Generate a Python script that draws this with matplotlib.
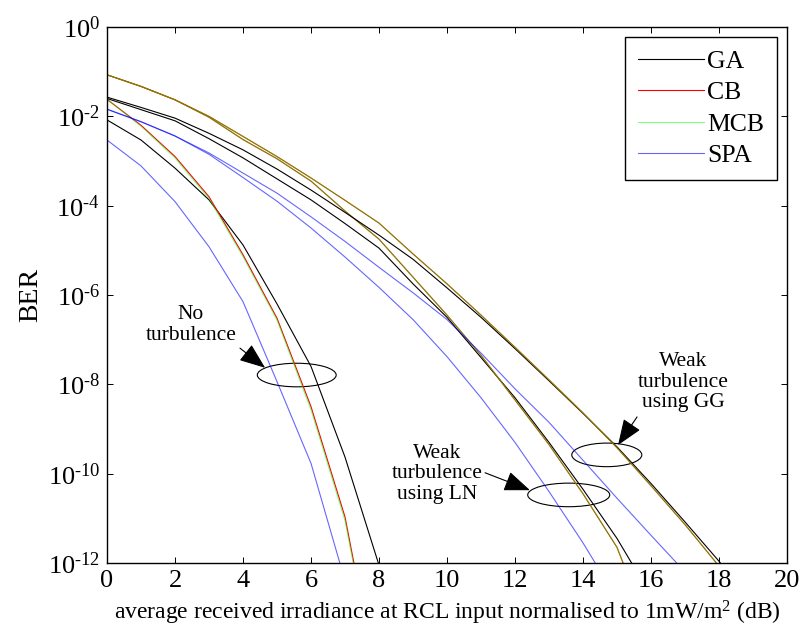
import matplotlib
matplotlib.use('Agg')
import matplotlib.pyplot as plt
import numpy as np
from matplotlib.patches import Ellipse

# log10(BER), one value per dB starting at 0 dB
# no turbulence
no_ga = [-2.08, -2.53, -3.16, -3.87, -4.88, -6.20, -7.60, -9.63, -12.05]
no_cb = [-1.62, -2.20, -2.90, -3.80, -5.10, -6.52, -8.50, -10.97, -14.9]
no_mcb = [-1.62, -2.22, -2.93, -3.84, -5.14, -6.56, -8.57, -11.05, -15.0]
no_spa = [-2.53, -3.11, -3.91, -4.92, -6.15, -7.94, -9.77, -12.40]

# weak turbulence, lognormal
ln_ga = [-1.60, -1.85, -2.10, -2.50, -2.93, -3.40, -3.87, -4.40, -4.95, -5.75,
         -6.50, -7.40, -8.30, -9.30, -10.35, -11.45, -12.73]
ln_cb = [-1.07, -1.33, -1.63, -2.02, -2.52, -2.95, -3.45, -4.12, -4.75, -5.60,
         -6.45, -7.35, -8.35, -9.35, -10.45, -11.65, -13.6]
ln_mcb = [-1.07, -1.33, -1.63, -2.02, -2.52, -2.95, -3.45, -4.12, -4.75, -5.60,
          -6.45, -7.35, -8.35, -9.35, -10.45, -11.65, -13.6]
ln_spa = [-1.84, -2.12, -2.44, -2.85, -3.37, -3.90, -4.50, -5.15, -5.83, -6.55,
          -7.38, -8.30, -9.30, -10.40, -11.55, -12.80]

# weak turbulence, gamma-gamma
gg_ga = [-1.57, -1.80, -2.04, -2.38, -2.75, -3.18, -3.65, -4.15, -4.66, -5.20,
         -5.84, -6.50, -7.20, -7.92, -8.65, -9.40, -10.22, -11.08, -11.96, -12.9]
gg_cb = [-1.07, -1.33, -1.63, -2.00, -2.45, -2.90, -3.38, -3.88, -4.39, -5.08,
         -5.75, -6.45, -7.17, -7.90, -8.64, -9.42, -10.27, -11.14, -12.07, -13.0]
gg_mcb = [-1.07, -1.33, -1.63, -2.00, -2.45, -2.90, -3.38, -3.88, -4.39, -5.08,
          -5.75, -6.45, -7.17, -7.90, -8.64, -9.42, -10.27, -11.14, -12.07, -13.0]
gg_spa = [-1.84, -2.12, -2.44, -2.82, -3.27, -3.72, -4.25, -4.80, -5.38, -5.95,
          -6.55, -7.30, -8.10, -8.85, -9.70, -10.55, -11.38, -12.20]

labels = ['GA', 'CB', 'MCB', 'SPA']
xticks = list(range(0, 21, 2))
yexp = list(range(0, -13, -2))

plt.rcParams['font.family'] = ['Liberation Serif', 'DejaVu Serif']
plt.rcParams['mathtext.fontset'] = 'custom'
plt.rcParams['mathtext.rm'] = 'Liberation Serif'
plt.rcParams['mathtext.it'] = 'Liberation Serif:italic'

fig = plt.figure(figsize=(8.06, 6.33), dpi=100)
ax = fig.add_axes([0.1328, 0.1106, 0.8436, 0.8467])

styles = [dict(color='k'), dict(color='red'),
          dict(color='lime', alpha=0.5), dict(color='blue', alpha=0.6)]


def draw(group):
    lines = []
    for vals, st in zip(group, styles):
        x = np.arange(len(vals))
        ln, = ax.semilogy(x, 10.0 ** np.array(vals), lw=0.8, **st)
        lines.append(ln)
    return lines


handles = draw([no_ga, no_cb, no_mcb, no_spa])
draw([ln_ga, ln_cb, ln_mcb, ln_spa])
draw([gg_ga, gg_cb, gg_mcb, gg_spa])

ax.set_xlim(0, 20)
ax.set_ylim(1e-12, 1)
ax.set_xticks(xticks)
ax.set_yticks([10.0 ** e for e in yexp])
ax.set_yticklabels([r'$\mathregular{10^{\text{%d}}}$' % e for e in yexp])
ax.minorticks_off()
ax.tick_params(direction='in', top=True, right=True, length=4, width=0.7,
               labelsize=19, pad=5)
for s in ax.spines.values():
    s.set_linewidth(1.0)

ax.set_ylabel('BER', fontsize=20, labelpad=3)
ax.set_xlabel(r'average received irradiance at RCL input normalised to 1mW/m$^2$ (dB)',
              fontsize=17, labelpad=5)

leg = ax.legend(handles, labels, loc='upper right', fancybox=False, framealpha=1,
                edgecolor='k', fontsize=18.5, handlelength=2.55, handletextpad=0.12,
                labelspacing=0.32, borderaxespad=0.4, borderpad=0.5)
leg.get_frame().set_linewidth(1.0)
for h in leg.get_lines():
    h.set_linewidth(0.8)

# annotations
txt = dict(ha='center', va='center', fontsize=15.5, linespacing=1.1)
ax.text(2.47, 10 ** -6.67, 'No\nturbulence', **txt)
ax.text(9.71, 10 ** -10.0, 'Weak\nturbulence\nusing LN', **txt)
ax.text(16.94, 10 ** -7.95, 'Weak\nturbulence\nusing GG', **txt)

arrow = dict(arrowstyle='-|>,head_length=0.9,head_width=0.35', color='k', lw=0.8,
             shrinkA=0, shrinkB=0, mutation_scale=18)
ax.annotate('', xy=(4.65, 10 ** -7.63), xytext=(3.91, 10 ** -7.19), arrowprops=arrow)
ax.annotate('', xy=(12.44, 10 ** -10.37), xytext=(11.12, 10 ** -9.98), arrowprops=arrow)
ax.annotate('', xy=(15.03, 10 ** -9.36), xytext=(15.59, 10 ** -8.73), arrowprops=arrow)

for cx, cy, w in [(0.279, 0.3507, 0.116), (0.679, 0.127, 0.1206), (0.735, 0.2017, 0.103)]:
    ax.add_patch(Ellipse((cx, cy), w, 0.044, transform=ax.transAxes,
                         fill=False, ec='k', lw=0.8))

fig.savefig('out.png', dpi=100)
